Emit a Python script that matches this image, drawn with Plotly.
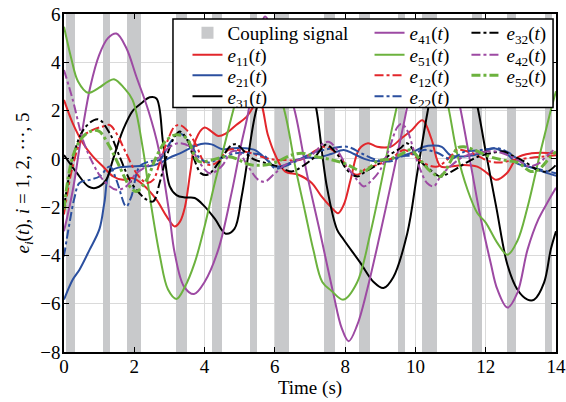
import plotly.graph_objects as go

# ---------------- data ----------------
coupling_start = [0.05, 1.1, 1.8, 3.2, 4.2, 5.3, 6.0, 7.4, 8.4, 9.5, 10.2, 11.6, 12.6, 13.7]
coupling_end = [0.3, 1.3, 2.2, 3.5, 4.5, 5.5, 6.4, 7.7, 8.7, 9.7, 10.6, 11.9, 12.85, 13.9]

x_ticks = [0, 2, 4, 6, 8, 10, 12, 14]
y_ticks = [-8, -6, -4, -2, 0, 2, 4, 6]
x_range = [0, 14]
y_range = [-8, 6]

t_e11 = [0, 0.25, 0.54, 0.82, 1.11, 1.4, 1.68, 1.96, 2.25, 2.63, 2.92, 3.15, 3.3, 3.44, 3.6, 3.75, 4.0, 4.2, 4.39, 4.6, 4.9, 5.2, 5.55, 5.8, 6.0, 6.29, 6.67, 7.05, 7.3, 7.6, 7.8, 7.96, 8.15, 8.4, 8.65, 8.91, 9.29, 9.6, 9.9, 10.2, 10.45, 10.71, 11.0, 11.38, 11.76, 12.05, 12.3, 12.6, 12.9, 13.3, 14]
v_e11 = [2.44, 1.47, 0.65, 0.1, -0.32, -0.73, -0.87, -0.8, -1.07, -1.69, -2.38, -2.8, -2.6, -2.0, -0.5, 0.8, 1.3, 1.13, 0.95, 1.05, 1.4, 1.75, 2.4, 1.0, 0.2, -0.52, -0.66, -1.0, -1.5, -2.0, -2.25, -1.9, -0.9, 0.4, 0.65, 0.5, 0.5, 0.85, 1.2, 1.6, 0.85, -0.3, -0.32, -0.25, -0.32, -0.6, -0.87, -0.6, 0.05, 0.23, 0.23]

t_e21 = [0, 0.25, 0.44, 0.73, 1.01, 1.15, 1.3, 1.58, 1.87, 2.15, 2.44, 2.73, 3.01, 3.3, 3.6, 3.9, 4.2, 4.5, 4.8, 5.15, 5.45, 5.72, 6.0, 6.3, 6.6, 6.9, 7.2, 7.6, 7.96, 8.25, 8.55, 8.85, 9.2, 9.55, 9.86, 10.24, 10.5, 10.75, 11.0, 11.4, 11.86, 12.23, 12.6, 12.9, 13.28, 13.66, 14]
v_e21 = [-5.83, -5.0, -4.59, -3.76, -2.9, -1.8, -0.55, -0.35, -0.32, -0.3, -0.3, -0.18, 0.05, 0.23, 0.45, 0.62, 0.6, 0.4, 0.44, 0.44, 0.35, 0.03, -0.32, -0.25, -0.05, 0.05, 0.05, 0.2, 0.37, 0.2, 0.0, -0.1, -0.05, 0.1, 0.23, 0.5, 0.55, 0.5, 0.15, 0.1, 0.23, 0.44, 0.2, -0.2, -0.35, -0.55, -0.7]

t_e31 = [0, 0.35, 0.7, 0.92, 1.2, 1.39, 1.68, 1.96, 2.2, 2.44, 2.63, 2.82, 3.01, 3.2, 3.44, 3.72, 4.0, 4.3, 4.6, 4.85, 5.05, 5.25, 5.45, 5.8, 6.2, 6.55, 6.85, 7.05, 7.2, 7.48, 7.77, 7.96, 8.43, 8.81, 9.09, 9.37, 9.77, 10.05, 10.34, 10.6, 10.85, 11.1, 11.35, 11.55, 11.76, 12.0, 12.3, 12.62, 12.9, 13.19, 13.38, 13.66, 13.85, 14]
v_e31 = [0.16, -0.55, -1.15, -1.2, -0.87, -0.04, 1.2, 2.0, 2.3, 2.55, 2.5, 0.65, -1.14, -1.5, -1.6, -1.62, -1.97, -2.5, -3.1, -2.9, -1.6, 0.2, 1.9, 3.6, 4.7, 5.0, 4.3, 3.0, 1.9, -1.15, -2.93, -3.35, -4.3, -5.1, -5.35, -4.9, -3.07, -0.6, 1.9, 3.8, 4.7, 4.9, 4.4, 3.4, 2.2, 0.3, -2.0, -4.4, -5.41, -5.83, -5.83, -5.13, -3.76, -3.0]

t_e41 = [0, 0.25, 0.5, 0.75, 1.0, 1.25, 1.49, 1.77, 2.06, 2.4, 2.7, 2.98, 3.15, 3.42, 3.7, 4.0, 4.39, 4.77, 5.05, 5.24, 5.45, 5.72, 6.0, 6.3, 6.58, 6.91, 7.29, 7.66, 7.9, 8.1, 8.34, 8.63, 9.0, 9.37, 9.66, 9.95, 10.25, 10.5, 10.8, 11.05, 11.29, 11.57, 11.85, 12.14, 12.33, 12.62, 12.9, 13.19, 13.5, 13.76, 14]
v_e41 = [-3.0, -1.3, 1.0, 3.0, 4.3, 5.0, 5.19, 4.6, 3.4, 2.0, 0.37, -2.1, -3.9, -5.3, -5.6, -5.1, -3.76, -1.4, 0.65, 1.9, 4.0, 5.9, 4.9, 3.3, 1.9, -0.6, -3.07, -5.55, -7.0, -7.55, -6.9, -5.4, -3.07, -0.6, 1.4, 3.4, 4.9, 5.4, 4.9, 3.6, 2.0, -0.2, -2.4, -4.3, -5.4, -6.16, -5.55, -3.76, -2.5, -1.8, -1.2]

t_e51 = [0, 0.2, 0.4, 0.68, 1.0, 1.25, 1.44, 1.7, 1.95, 2.25, 2.44, 2.73, 2.96, 3.2, 3.44, 3.72, 4.0, 4.29, 4.58, 4.82, 5.1, 5.5, 5.9, 6.29, 6.58, 6.86, 7.1, 7.35, 7.6, 7.95, 8.34, 8.72, 9.08, 9.37, 9.7, 10.1, 10.5, 10.8, 10.95, 11.19, 11.48, 11.76, 12.0, 12.33, 12.62, 12.9, 13.19, 13.57, 13.85, 14]
v_e51 = [5.47, 4.2, 3.2, 2.74, 2.95, 3.2, 3.29, 2.95, 2.44, 0.37, -1.56, -4.04, -5.41, -5.8, -5.3, -4.3, -2.8, -1.0, 0.65, 2.03, 3.5, 4.5, 3.7, 1.89, -0.32, -2.2, -3.8, -5.1, -5.45, -5.83, -5.12, -3.06, -0.6, 1.5, 3.4, 4.6, 4.2, 3.0, 2.05, 0.2, -1.27, -2.24, -2.64, -3.48, -3.97, -3.4, -2.0, 0.37, 2.0, 2.8]

t_e12 = [0, 0.25, 0.54, 0.82, 1.11, 1.3, 1.49, 1.77, 2.06, 2.35, 2.54, 2.72, 2.92, 3.15, 3.3, 3.49, 3.75, 4.01, 4.2, 4.4, 4.68, 5.0, 5.34, 5.7, 6.0, 6.3, 6.7, 7.0, 7.39, 7.6, 7.9, 8.1, 8.34, 8.6, 8.91, 9.3, 9.67, 9.9, 10.24, 10.62, 11.0, 11.19, 11.5, 11.8, 12.1, 12.4, 12.8, 13.3, 13.7, 14]
v_e12 = [-2.3, -0.3, 0.92, 1.2, 1.34, 1.4, 1.06, 0.23, -0.59, -1.0, -0.87, -0.18, 0.65, 1.34, 1.4, 1.2, 0.6, -0.18, -0.25, -0.1, 0.37, 0.35, 0.23, 0.05, -0.04, -0.05, -0.05, 0.2, 0.5, 0.4, 0.0, -0.45, -0.66, -0.4, -0.25, 0.0, 0.37, 0.2, -0.18, -0.32, 0.1, 0.37, 0.3, 0.1, -0.1, -0.15, -0.05, 0.05, 0.1, 0.15]

t_e22 = [0, 0.14, 0.3, 0.44, 0.73, 1.01, 1.3, 1.49, 1.77, 1.92, 2.15, 2.45, 2.72, 3.01, 3.25, 3.5, 3.82, 4.1, 4.4, 4.87, 5.34, 5.72, 6.0, 6.3, 6.67, 7.05, 7.4, 8.05, 8.5, 8.9, 9.3, 9.6, 9.86, 10.24, 10.62, 11.0, 11.4, 11.8, 12.33, 12.6, 12.9, 13.2, 13.57, 14]
v_e22 = [-4.04, -2.8, -1.6, -1.0, -0.87, -0.73, -0.32, -0.87, -1.97, -1.55, -0.32, -0.1, -0.04, 0.65, 1.06, 0.85, 0.1, -0.15, 0.0, 0.23, 0.23, 0.1, -0.39, -0.3, -0.05, 0.23, 0.37, 0.5, 0.2, -0.05, -0.1, 0.1, 0.15, 0.37, 0.25, 0.0, 0.3, 0.35, 0.44, 0.3, 0.0, -0.3, -0.45, -0.6]

t_e32 = [0, 0.3, 0.6, 0.97, 1.3, 1.58, 1.87, 2.06, 2.35, 2.54, 2.72, 2.92, 3.15, 3.3, 3.5, 3.7, 3.9, 4.1, 4.39, 4.75, 4.9, 5.34, 5.8, 6.1, 6.48, 6.77, 7.15, 7.45, 7.77, 8.05, 8.34, 8.6, 8.91, 9.3, 9.57, 9.76, 10.14, 10.42, 10.71, 11.0, 11.4, 11.8, 12.14, 12.52, 12.8, 13.09, 13.47, 13.76, 14]
v_e32 = [-2.0, 0.3, 1.3, 1.64, 1.06, 0.1, -0.87, -1.28, -1.69, -1.76, -1.0, 0.1, 0.92, 1.13, 0.8, 0.0, -0.6, -0.65, -0.18, 0.55, 0.6, 0.03, -0.2, -0.32, -0.52, -0.32, 0.1, 0.58, 0.2, -0.45, -0.73, -0.5, -0.25, 0.2, 0.44, 0.65, -0.1, -0.45, -0.73, -0.55, -0.2, 0.1, 0.23, 0.3, 0.1, -0.1, -0.45, -0.52, -0.25]

t_e42 = [0, 0.25, 0.54, 0.82, 1.11, 1.49, 1.77, 2.06, 2.34, 2.73, 3.01, 3.29, 3.58, 3.87, 4.15, 4.48, 4.77, 4.95, 5.24, 5.53, 5.72, 6.0, 6.29, 6.67, 7.05, 7.39, 7.55, 7.77, 8.05, 8.34, 8.53, 8.75, 9.0, 9.25, 9.48, 9.6, 9.76, 9.95, 10.14, 10.33, 10.52, 10.71, 11.0, 11.38, 11.8, 12.3, 12.9, 13.2, 13.5, 13.76, 14]
v_e42 = [3.68, 2.44, 0.78, -0.18, -0.87, -1.28, -1.14, -0.59, -0.32, 0.1, 0.5, 0.65, 0.5, -0.18, -0.6, -0.32, 0.3, 0.3, -0.32, -0.87, -0.94, -0.6, -0.25, -0.04, 0.16, 0.65, 0.7, 0.37, -0.32, -0.87, -1.14, -0.9, -0.45, 0.4, 1.3, 1.45, 1.2, 0.37, -0.45, -1.0, -1.14, -0.73, -0.3, 0.1, 0.25, 0.3, -0.04, -0.3, -0.2, 0.16, 0.44]

t_e52 = [0, 0.25, 0.54, 0.82, 1.01, 1.3, 1.58, 1.87, 2.06, 2.35, 2.63, 2.92, 3.2, 3.49, 3.82, 4.2, 4.68, 5.34, 5.9, 6.48, 6.77, 7.15, 7.5, 8.0, 8.53, 8.91, 9.29, 9.6, 9.86, 10.14, 10.43, 10.71, 11.0, 11.19, 11.38, 11.7, 12.1, 12.5, 12.9, 13.28, 13.5, 13.85, 14]
v_e52 = [-2.1, 0.1, 0.92, 1.17, 1.13, 0.5, -0.32, -1.14, -1.35, -0.87, 0.1, 0.78, 1.0, 0.85, -0.1, -0.05, 0.1, -0.25, -0.2, 0.16, 0.23, 0.1, 0.0, -0.2, -0.52, -0.1, 0.0, 0.2, 0.37, -0.05, -0.52, -0.73, -0.1, 0.44, 0.5, 0.35, 0.1, -0.05, -0.15, -0.52, -0.45, 0.1, 0.3]

# ---------------- styling ----------------
RED = "#e2262b"
BLUE = "#2b4f9f"
BLACK = "#000000"
PURPLE = "#9d4aa3"
GREEN = "#6cb23e"
GRAY = "#c8c9cb"
FONT = "Liberation Serif"

def label(sub):
    return "<i>e</i><sub>%s</sub>(<i>t</i>)" % sub

series = [
    ("11", t_e11, v_e11, RED, "solid", 2, "legend2"),
    ("21", t_e21, v_e21, BLUE, "solid", 2, "legend3"),
    ("31", t_e31, v_e31, BLACK, "solid", 2, "legend4"),
    ("41", t_e41, v_e41, PURPLE, "solid", 2, "legend5"),
    ("51", t_e51, v_e51, GREEN, "solid", 2, "legend6"),
    ("12", t_e12, v_e12, RED, "dashdot", 2, "legend7"),
    ("22", t_e22, v_e22, BLUE, "dashdot", 2, "legend8"),
    ("32", t_e32, v_e32, BLACK, "dashdot", 2, "legend9"),
    ("42", t_e42, v_e42, PURPLE, "dashdot", 2, "legend10"),
    ("52", t_e52, v_e52, GREEN, "dashdot", 3, "legend11"),
]

fig = go.Figure()

bar_x = [(s + e) / 2 for s, e in zip(coupling_start, coupling_end)]
bar_w = [e - s for s, e in zip(coupling_start, coupling_end)]
fig.add_trace(go.Bar(
    x=bar_x, y=[y_range[1] - y_range[0]] * len(bar_x), base=y_range[0],
    width=bar_w, marker=dict(color=GRAY, line=dict(width=0)),
    name="Coupling signal", legend="legend", hoverinfo="skip",
))

for sub, t, v, col, dash, lw, lg in series:
    fig.add_trace(go.Scatter(
        x=t, y=v, mode="lines", name=label(sub), legend=lg,
        line=dict(color=col, width=lw, dash=dash, shape="spline", smoothing=1.0),
    ))

# legend layout: one entry per legend, arranged in a 3-column grid
col_x = [0.251, 0.621, 0.818]
row_y = [0.944, 0.879, 0.818, 0.756]
grid = {
    "legend": (0, 0), "legend2": (0, 1), "legend3": (0, 2), "legend4": (0, 3),
    "legend5": (1, 0), "legend6": (1, 1), "legend7": (1, 2), "legend8": (1, 3),
    "legend9": (2, 0), "legend10": (2, 1), "legend11": (2, 2),
}
legends = {}
for key, (c, r) in grid.items():
    legends[key] = dict(
        x=col_x[c], y=row_y[r], xanchor="left", yanchor="middle",
        bgcolor="rgba(0,0,0,0)", borderwidth=0,
        font=dict(family=FONT, size=19, color="black"),
        itemclick=False, itemdoubleclick=False,
    )

axis_common = dict(
    showline=True, linecolor="black", linewidth=1.5, mirror="ticks",
    ticks="inside", ticklen=5, tickwidth=1, tickcolor="black",
    showgrid=True, gridcolor="#dadada", gridwidth=1, zeroline=False,
    tickfont=dict(family=FONT, size=19, color="black"),
)

fig.update_layout(
    width=566, height=402,
    margin=dict(l=64, r=10, t=14, b=48),
    paper_bgcolor="white", plot_bgcolor="white",
    barmode="overlay", bargap=0,
    showlegend=True,
    xaxis=dict(range=x_range, tickvals=x_ticks, **axis_common,
               automargin="bottom", ticklabelstandoff=-4,
               title=dict(text="Time (s)", font=dict(family=FONT, size=19, color="black"), standoff=2)),
    yaxis=dict(range=y_range, tickvals=y_ticks, **axis_common,
               automargin="left", ticklabelstandoff=-2,
               title=dict(text="<i>e</i><sub><i>i</i></sub>(<i>t</i>), <i>i</i> = 1, 2, ···, 5",
                          font=dict(family=FONT, size=19, color="black"), standoff=6)),
    shapes=[dict(type="rect", xref="paper", yref="paper",
                 x0=0.2215, x1=0.994, y0=0.7235, y1=0.985,
                 line=dict(color="black", width=1.5), fillcolor="white", layer="above")],
    **legends,
)

# remove the default page margin so the figure sits at the window's top-left corner
fig.write_html("out.html", config={"displayModeBar": False},
               post_script="document.body.style.margin='0';")
